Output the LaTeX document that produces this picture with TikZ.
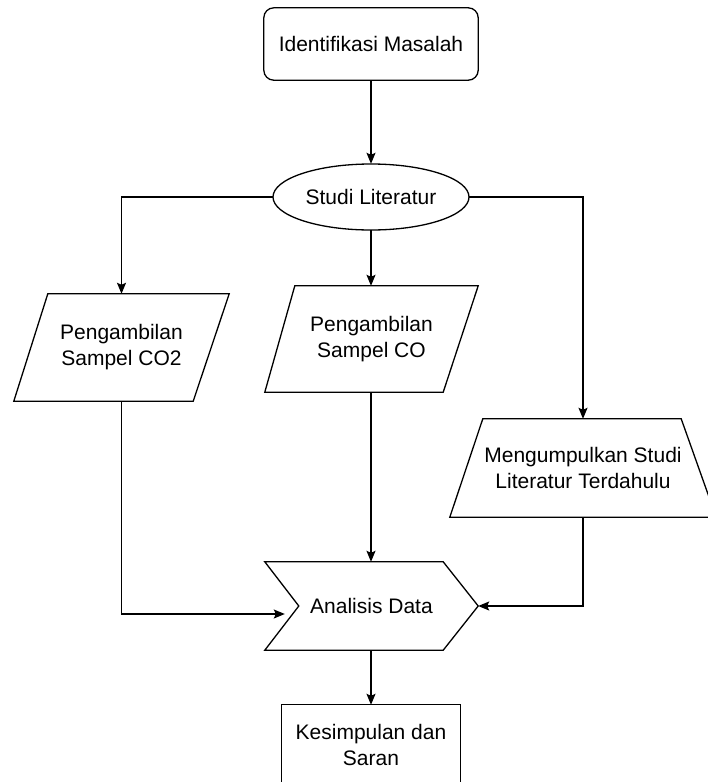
\documentclass[tikz,border=0pt]{standalone}
\usepackage{fontspec}
\setmainfont{Liberation Sans}
\usetikzlibrary{arrows.meta,calc,shapes.geometric}

\tikzset{
  frame/.style={inner sep=0pt},
  label/.style={inner sep=0pt, align=center, font=\fontsize{21}{26}\selectfont},
  outline/.style={draw=black, line width=1.3pt, fill=white, line join=miter},
  conn/.style={draw=black, line width=1.3pt, -{Stealth[length=11pt,width=9pt,inset=2pt]}},
}

\begin{document}
\begin{tikzpicture}[x=1pt, y=-1pt]
  \fill[white] (0,0) rectangle (708,782);
  \useasboundingbox (0,0) rectangle (708,782);

  % empty frames giving the anchors of each step
  \node[frame, minimum width=214pt, minimum height=72pt] (ident) at (371,44) {};
  \node[frame, ellipse, minimum width=196pt, minimum height=66pt] (studi) at (371,197) {};
  \node[frame, minimum width=215pt, minimum height=107pt] (co2) at (121.5,347.5) {};
  \node[frame, minimum width=213pt, minimum height=106pt] (co) at (371.5,339) {};
  \node[frame, minimum width=266pt, minimum height=98pt] (lit) at (583,468) {};
  \node[frame, minimum width=213pt, minimum height=88pt] (anal) at (371.5,606) {};
  \node[frame, minimum width=178pt, minimum height=80pt] (kes) at (371,745) {};

  % shape outlines built on the frames
  \draw[outline, rounded corners=10pt] (ident.north west) rectangle (ident.south east);
  \draw[outline] (studi.center) ellipse [x radius=98, y radius=33];
  \draw[outline] ($(co2.north west)+(34,0)$) -- (co2.north east)
        -- ($(co2.south east)-(36,0)$) -- (co2.south west) -- cycle;
  \draw[outline] ($(co.north west)+(30,0)$) -- (co.north east)
        -- ($(co.south east)-(35,0)$) -- (co.south west) -- cycle;
  \draw[outline] ($(lit.north west)+(33,0)$) -- ($(lit.north east)-(35,0)$)
        -- (lit.south east) -- (lit.south west) -- cycle;
  \draw[outline] (anal.north west) -- ($(anal.north east)-(35,0)$) -- (anal.east)
        -- ($(anal.south east)-(35,0)$) -- (anal.south west)
        -- ($(anal.west)+(34,0)$) -- cycle;
  \draw[outline] (kes.north west) rectangle ($(kes.south east)+(0,10)$);

  % texts
  \node[label] (ident-t) at (ident) {Identifikasi Masalah};
  \node[label] (studi-t) at (studi) {Studi Literatur};
  \node[label] (co2-t) at (co2) {Pengambilan\\Sampel CO2};
  \node[label] (co-t) at (co) {Pengambilan\\Sampel CO};
  \node[label] (lit-t) at (lit) {Mengumpulkan Studi\\Literatur Terdahulu};
  \node[label] (anal-t) at (anal) {Analisis Data};
  \node[label] (kes-t) at (kes) {Kesimpulan dan\\Saran};

  % connectors
  \draw[conn] (ident.south) -- (studi.north);
  \draw[conn] (studi.west) -| (co2.north);
  \draw[conn] (studi.south) -- (studi.south |- co.north);
  \draw[conn] (studi.east) -| (lit.north);
  \draw[conn] (co2.south) |- ($(anal.west)+(20,8)$);
  \draw[conn] (co.south -| studi.south) -- (studi.south |- anal.north);
  \draw[conn] (lit.south) |- (anal.east);
  \draw[conn] (anal.south -| studi.south) -- (studi.south |- kes.north);
\end{tikzpicture}
\end{document}
